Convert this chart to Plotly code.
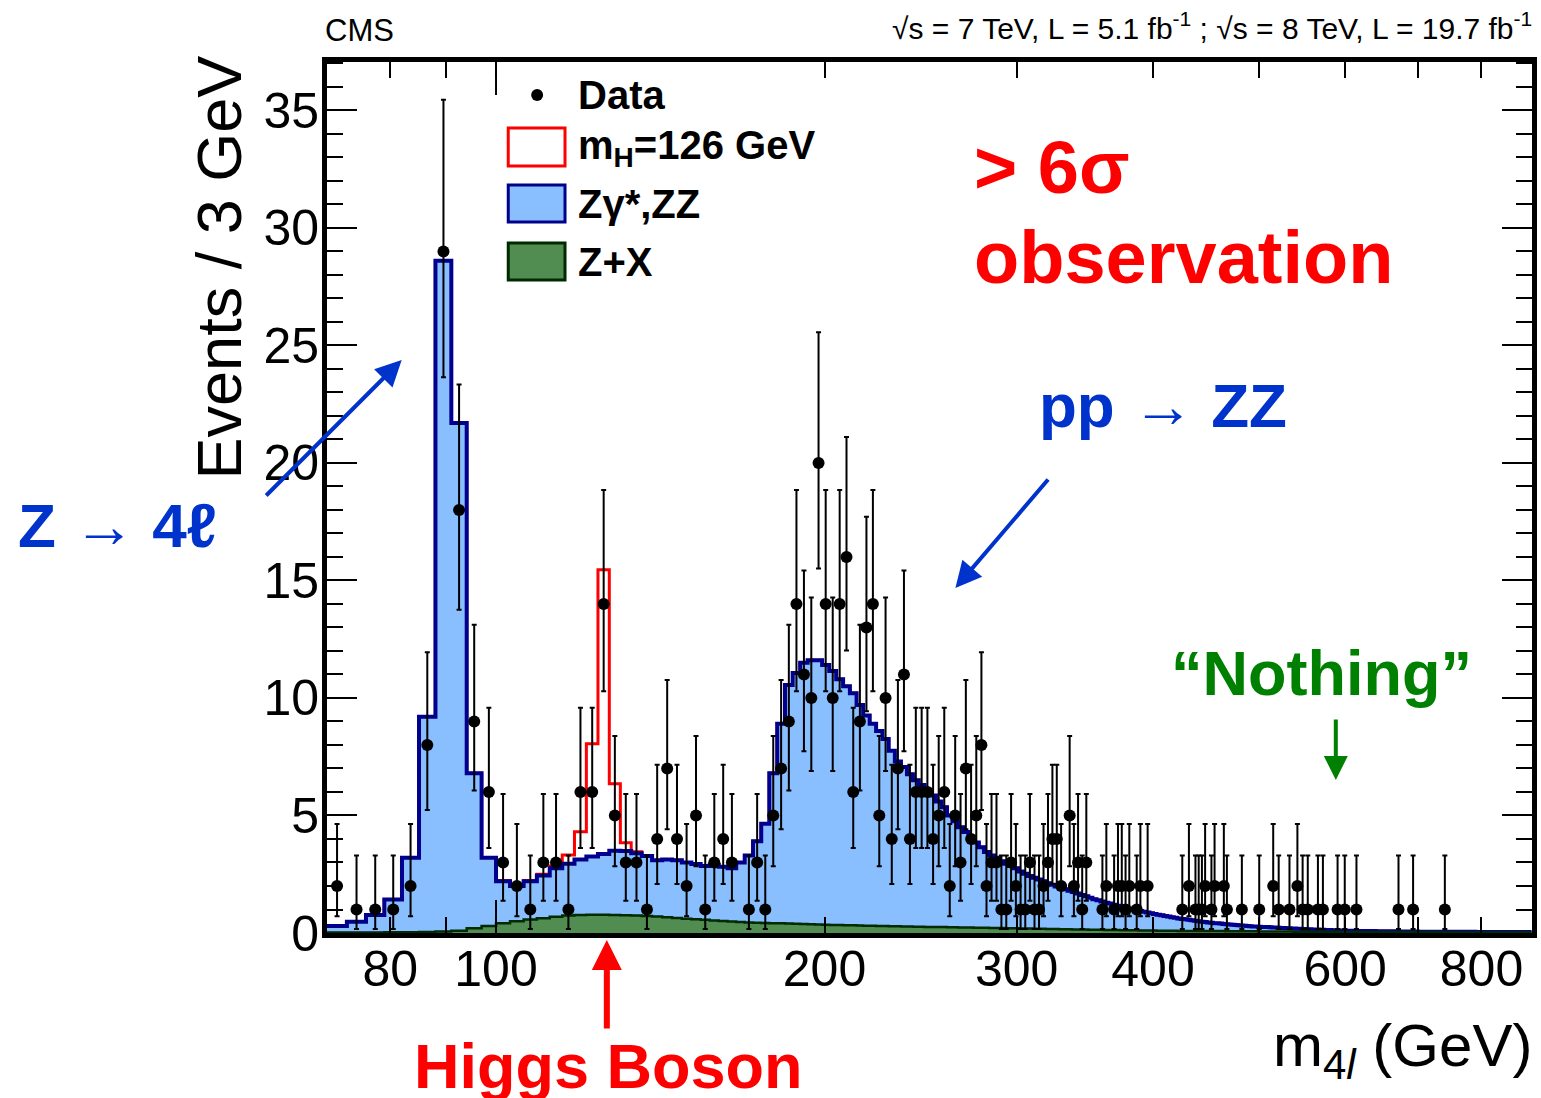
import numpy as np
import plotly.graph_objects as go

# ---------------- data ----------------
BIN_LO = 70.0
BIN_W = 3.0
N_BINS = 273
edges = [BIN_LO + BIN_W * i for i in range(N_BINS + 1)]

# stack top of Z+X + Zgamma*,ZZ  (per 3 GeV bin)
bkg_total_70_100 = [0.30, 0.48, 0.77, 1.43, 3.2, 9.2, 28.6, 21.7, 6.8, 3.2]
bkg_total_100_169 = [2.2, 2.0, 2.2, 2.45, 2.75, 2.95, 3.13, 3.25, 3.36, 3.5, 3.49, 3.39,
                     3.28, 3.1, 3.13, 3.1, 3.0, 2.94, 2.85, 2.9, 2.82, 2.75, 3.0]
bkg_total_169_199 = [3.3, 3.9, 4.65, 6.8, 8.9, 10.55, 11.06, 11.5, 11.6, 11.6]
bkg_total_199_310 = [11.4, 11.15, 10.8, 10.5, 10.2, 9.7, 9.25, 8.9, 8.6, 8.25,
                     7.75, 7.3, 7.06, 6.75, 6.5, 6.3, 6.1, 5.85, 5.6, 5.35,
                     5.0, 4.75, 4.5, 4.3, 4.1, 3.85, 3.65, 3.45, 3.3, 3.2,
                     3.05, 2.95, 2.85, 2.75, 2.62, 2.52, 2.43]
bkg_total_310_640 = [2.35, 2.28, 2.2, 2.12, 2.05, 1.98, 1.92, 1.86, 1.8, 1.74,
                     1.68, 1.62, 1.56, 1.5, 1.44, 1.39, 1.34, 1.29, 1.25, 1.2,
                     1.16, 1.12, 1.08, 1.04, 1.0, 0.97, 0.94, 0.9, 0.87, 0.84,
                     0.81, 0.78, 0.75, 0.72, 0.7, 0.67, 0.65, 0.62, 0.6, 0.58,
                     0.56, 0.54, 0.52, 0.5, 0.48, 0.47, 0.45, 0.44, 0.42, 0.41,
                     0.4, 0.38, 0.37, 0.36, 0.35, 0.34, 0.33, 0.32, 0.31, 0.3,
                     0.29, 0.28, 0.28, 0.27, 0.26, 0.25, 0.25, 0.24, 0.23, 0.23,
                     0.22, 0.21, 0.21, 0.2, 0.2, 0.19, 0.19, 0.18, 0.18, 0.17,
                     0.17, 0.16, 0.16, 0.15, 0.15, 0.15, 0.14, 0.14, 0.13, 0.13,
                     0.13, 0.12, 0.12, 0.12, 0.11, 0.11, 0.11, 0.1, 0.1, 0.1,
                     0.1, 0.09, 0.09, 0.09, 0.09, 0.08, 0.08, 0.08, 0.08, 0.08]
bkg_total_640_889 = [0.07] * 10 + [0.06] * 10 + [0.05] * 30 + [0.04] * 33

# Z+X (reducible background)
zx_70_100 = [0.02, 0.02, 0.02, 0.03, 0.03, 0.04, 0.06, 0.1, 0.2, 0.3]
zx_100_169 = [0.42, 0.5, 0.57, 0.63, 0.69, 0.74, 0.77, 0.78, 0.78, 0.77, 0.76, 0.74,
              0.72, 0.7, 0.67, 0.64, 0.61, 0.58, 0.56, 0.53, 0.51, 0.49, 0.47]
zx_169_199 = [0.45, 0.44, 0.43, 0.42, 0.41, 0.40, 0.39, 0.38, 0.37, 0.36]
zx_199_310 = [0.35, 0.34, 0.34, 0.33, 0.33, 0.32, 0.31, 0.31, 0.30, 0.30,
              0.29, 0.29, 0.28, 0.28, 0.27, 0.27, 0.26, 0.26, 0.25, 0.25,
              0.24, 0.24, 0.23, 0.23, 0.23, 0.22, 0.22, 0.22, 0.21, 0.21,
              0.21, 0.20, 0.20, 0.20, 0.19, 0.19, 0.19]
zx_310_640 = [0.18, 0.18, 0.18, 0.17, 0.17, 0.17, 0.16, 0.16, 0.16, 0.15,
              0.15, 0.15, 0.15, 0.14, 0.14, 0.14, 0.14, 0.13, 0.13, 0.13,
              0.13, 0.12, 0.12, 0.12, 0.12, 0.12, 0.11, 0.11, 0.11, 0.11,
              0.11, 0.10, 0.10, 0.10, 0.10, 0.10, 0.10, 0.09, 0.09, 0.09,
              0.09, 0.09, 0.09, 0.09, 0.08, 0.08, 0.08, 0.08, 0.08, 0.08,
              0.08, 0.08, 0.07, 0.07, 0.07, 0.07, 0.07, 0.07, 0.07, 0.07,
              0.07, 0.07, 0.07, 0.06, 0.06, 0.06, 0.06, 0.06, 0.06, 0.06,
              0.06, 0.06, 0.06, 0.06, 0.06, 0.06, 0.05, 0.05, 0.05, 0.05,
              0.05, 0.05, 0.05, 0.05, 0.05, 0.05, 0.05, 0.05, 0.05, 0.05,
              0.05, 0.05, 0.05, 0.05, 0.04, 0.04, 0.04, 0.04, 0.04, 0.04,
              0.04, 0.04, 0.04, 0.04, 0.04, 0.04, 0.04, 0.04, 0.04, 0.04]
zx_640_889 = [0.04] * 30 + [0.03] * 53

# Higgs signal mH = 126 GeV (bin low edge -> expected events)
sig_bin_lo = [100, 103, 106, 109, 112, 115, 118, 121, 124, 127, 130, 133]
sig_vals = [0.03, 0.03, 0.03, 0.05, 0.1, 0.37, 1.18, 4.8, 12.1, 2.85, 0.35, 0.07]

# observed data (bin centre, events)
data_mass = [71.5, 74.5, 77.5, 80.5, 83.5, 86.5, 89.5, 92.5, 95.5, 98.5,
             101.5, 104.5, 107.5, 110.5, 113.5, 116.5, 119.5, 122.5, 125.5, 128.5,
             131.5, 134.5, 137.5, 140.5, 143.5, 146.5, 149.5, 152.5, 155.5, 158.5,
             161.5, 164.5, 170.5, 173.5, 176.5, 179.5, 182.5, 185.5, 188.5, 191.5,
             194.5, 197.5, 200.5, 203.5, 206.5, 209.5, 212.5, 215.5, 218.5, 221.5,
             224.5, 227.5, 230.5, 233.5, 236.5, 239.5, 242.5, 245.5, 248.5, 251.5,
             254.5, 257.5, 260.5, 263.5, 266.5, 269.5, 272.5, 275.5, 278.5, 281.5,
             284.5, 287.5, 290.5, 293.5, 296.5, 299.5, 302.5, 305.5, 308.5, 311.5,
             314.5, 317.5, 320.5, 323.5, 326.5, 329.5, 335.5, 338.5, 341.5, 344.5,
             347.5, 359.5, 362.5, 368.5, 371.5, 374.5, 377.5, 380.5, 386.5, 389.5,
             395.5, 425.5, 431.5, 437.5, 440.5, 443.5, 446.5, 452.5, 455.5, 464.5,
             467.5, 482.5, 500.5, 515.5, 521.5, 533.5, 542.5, 548.5, 554.5, 566.5,
             572.5, 590.5, 599.5, 614.5, 671.5, 692.5, 740.5]
data_count = [2, 1, 1, 1, 2, 8, 29, 18, 9, 6,
              3, 2, 1, 3, 3, 1, 6, 6, 14, 5,
              3, 3, 1, 4, 7, 4, 2, 5, 1, 3,
              4, 3, 1, 3, 1, 5, 7, 9, 14, 11,
              10, 20, 14, 10, 14, 16, 6, 9, 13, 14,
              5, 10, 4, 7, 11, 4, 6, 6, 6, 4,
              5, 6, 2, 5, 3, 7, 4, 5, 8, 2,
              3, 3, 1, 1, 3, 2, 1, 1, 3, 1,
              1, 2, 3, 4, 4, 2, 5, 2, 3, 1,
              3, 1, 2, 1, 2, 2, 1, 2, 1, 2,
              2, 1, 2, 1, 1, 1, 2, 1, 2, 2,
              1, 1, 1, 2, 1, 1, 2, 1, 1, 1,
              1, 1, 1, 1, 1, 1, 1]

# Garwood (68%) Poisson intervals: n -> (down, up)
POISSON_ERR = {1: (0.827, 2.300), 2: (1.292, 2.638), 3: (1.633, 2.918), 4: (1.914, 3.163),
               5: (2.160, 3.383), 6: (2.380, 3.584), 7: (2.581, 3.770), 8: (2.767, 3.946),
               9: (2.942, 4.112), 10: (3.108, 4.270), 11: (3.267, 4.422), 13: (3.567, 4.708),
               14: (3.709, 4.844), 16: (3.983, 5.099), 18: (4.243, 5.337), 20: (4.492, 5.560),
               29: (5.350, 6.450)}

# ---------------- build ----------------
bkg_total = (bkg_total_70_100 + bkg_total_100_169 + bkg_total_169_199 +
             bkg_total_199_310 + bkg_total_310_640 + bkg_total_640_889)
zx = zx_70_100 + zx_100_169 + zx_169_199 + zx_199_310 + zx_310_640 + zx_640_889
sig = [0.0] * N_BINS
for lo, v in zip(sig_bin_lo, sig_vals):
    sig[int(round((lo - BIN_LO) / BIN_W))] = v
with_sig = [b + s for b, s in zip(bkg_total, sig)]

XMIN, XMAX = 70.0, 890.0
L0, L1 = np.log10(XMIN), np.log10(XMAX)
PL, PR, PT, PB = 327, 1537, 62, 933


def px(x):
    return (x - PL) / (PR - PL)


def py(y):
    return (PB - y) / (PB - PT)


def step(vals):
    return edges, list(vals) + [vals[-1]]


BLUE_FILL = '#89BEFF'
NAVY = '#00008C'
GREEN_FILL = '#518C51'
GREEN_LINE = '#002A00'
RED = '#FF0000'
TXT_BLUE = '#0033CC'
TXT_GREEN = '#008000'

fig = go.Figure()
x, y = step(with_sig)
fig.add_trace(go.Scatter(x=x, y=y, mode='lines', line=dict(color=RED, width=3, shape='hv'),
                         hoverinfo='skip'))
x, y = step(bkg_total)
fig.add_trace(go.Scatter(x=x, y=y, mode='lines', fill='tozeroy', fillcolor=BLUE_FILL,
                         line=dict(color=NAVY, width=4, shape='hv'), hoverinfo='skip'))
x, y = step(zx)
fig.add_trace(go.Scatter(x=x, y=y, mode='lines', fill='tozeroy', fillcolor=GREEN_FILL,
                         line=dict(color=GREEN_LINE, width=2.5, shape='hv'), hoverinfo='skip'))

err_dn = [POISSON_ERR[n][0] for n in data_count]
err_up = [POISSON_ERR[n][1] for n in data_count]
fig.add_trace(go.Scatter(x=data_mass, y=data_count, mode='markers',
                         marker=dict(color='black', size=12),
                         error_y=dict(type='data', symmetric=False, array=err_up, arrayminus=err_dn,
                                      color='black', thickness=2, width=2.5)))

ann = []


def text(t, x, y, size, color='black', xanchor='left', angle=0):
    ann.append(dict(text=t, x=px(x), y=py(y), xref='paper', yref='paper', showarrow=False,
                    xanchor=xanchor, yanchor='middle', textangle=angle,
                    font=dict(size=size, color=color, family='Liberation Sans, Arial, sans-serif')))


def arrow(hx, hy, tx, ty, color, width, size=1.0):
    ann.append(dict(text='', x=px(hx), y=py(hy), xref='paper', yref='paper', showarrow=True,
                    ax=tx - hx, ay=ty - hy, axref='pixel', ayref='pixel', arrowhead=2,
                    arrowsize=size, arrowwidth=width, arrowcolor=color, standoff=0))


text('CMS', 323, 30, 31)
text('√s = 7 TeV, L = 5.1 fb<sup>-1</sup> ; √s = 8 TeV, L = 19.7 fb<sup>-1</sup>', 1539, 26, 30,
     xanchor='right')
text('<b>Data</b>', 577, 95, 40)
text('<b>m<sub>H</sub>=126 GeV</b>', 577, 148, 40)
text('<b>Zγ*,ZZ</b>', 577, 204, 40)
text('<b>Z+X</b>', 577, 262, 40)
text('<b>&gt; 6σ</b>', 975, 168, 74, RED)
text('<b>observation</b>', 975, 257, 74, RED)
text('<b>pp → ZZ</b>', 1040, 405, 62, TXT_BLUE)
text('<b>Z → 4ℓ</b>', 15, 525, 62, TXT_BLUE)
text('<b>“Nothing”</b>', 1172, 673, 63, TXT_GREEN)
text('<b>Higgs Boson</b>', 610, 1066, 63, RED, xanchor='center')
text('m<sub>4<i>l</i></sub> (GeV)', 1539, 1050, 60, xanchor='right')
text('Events / 3 GeV', 219, 267, 63, xanchor='center', angle=-90)

arrow(402, 360, 265, 497, '#0033CC', 4, 1.3)
arrow(958, 588, 1052, 478, '#0033CC', 4, 1.3)
arrow(608, 940, 608, 1030, RED, 6, 1.0)
arrow(1340, 780, 1340, 718, TXT_GREEN, 4, 1.2)

shapes = []
# legend symbols
shapes.append(dict(type='circle', xref='paper', yref='paper', x0=px(532), x1=px(544),
                   y0=py(101), y1=py(89), fillcolor='black', line=dict(color='black', width=0)))
shapes.append(dict(type='rect', xref='paper', yref='paper', x0=px(509), x1=px(566),
                   y0=py(166), y1=py(128), fillcolor='white', line=dict(color=RED, width=3)))
shapes.append(dict(type='rect', xref='paper', yref='paper', x0=px(509), x1=px(566),
                   y0=py(222), y1=py(185), fillcolor=BLUE_FILL, line=dict(color=NAVY, width=3)))
shapes.append(dict(type='rect', xref='paper', yref='paper', x0=px(509), x1=px(566),
                   y0=py(280), y1=py(243), fillcolor=GREEN_FILL, line=dict(color=GREEN_LINE, width=3)))
# longer decade tick at 100
xp100 = (np.log10(100) - L0) / (L1 - L0)
shapes.append(dict(type='line', xref='paper', yref='paper', x0=xp100, x1=xp100, y0=0, y1=py(900),
                   line=dict(color='black', width=2)))
shapes.append(dict(type='line', xref='paper', yref='paper', x0=xp100, x1=xp100, y0=1, y1=py(95),
                   line=dict(color='black', width=2)))

fig.update_layout(
    width=1541, height=1098,
    margin=dict(l=PL, r=1541 - PR, t=PT, b=1098 - PB),
    paper_bgcolor='white', plot_bgcolor='white', showlegend=False,
    font=dict(family='Liberation Sans, Arial, sans-serif', color='black'),
    annotations=ann, shapes=shapes,
    xaxis=dict(type='log', range=[L0, L1], tickmode='array',
               tickvals=[80, 90, 100, 200, 300, 400, 500, 600, 700, 800],
               ticktext=['80', '', '100', '200', '300', '400', '', '600', '', '800'],
               ticks='inside', ticklen=16, tickwidth=2, tickcolor='black',
               showline=True, linewidth=5, linecolor='black', mirror='allticks',
               showgrid=False, zeroline=False, tickfont=dict(size=50), ticklabelstandoff=-12),
    yaxis=dict(range=[0, 37.06], tickmode='linear', tick0=0, dtick=5,
               ticks='inside', ticklen=30, tickwidth=2, tickcolor='black',
               minor=dict(dtick=1, ticklen=16, tickwidth=2, ticks='inside', tickcolor='black'),
               showline=True, linewidth=5, linecolor='black', mirror='allticks',
               showgrid=False, zeroline=False, tickfont=dict(size=50), ticklabelstandoff=-7),
)

fig.write_html('out.html', config={'displayModeBar': False},
               post_script="document.body.style.margin='0px';document.body.style.padding='0px';")
